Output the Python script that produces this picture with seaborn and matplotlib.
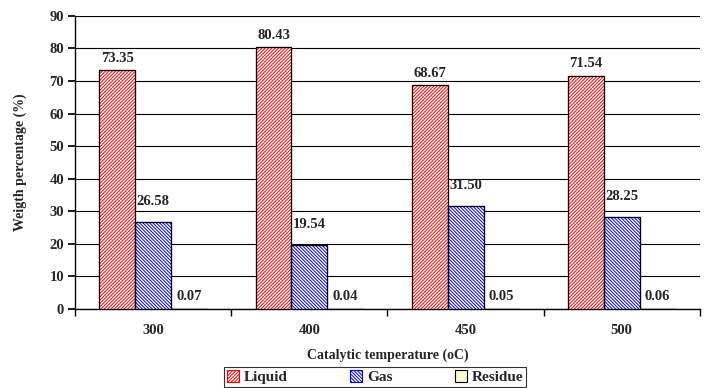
import matplotlib.pyplot as plt
import pandas as pd
import seaborn as sns
from matplotlib.patches import Rectangle

TEMPERATURES = ["300", "400", "450", "500"]
LIQUID = [73.35, 80.43, 68.67, 71.54]
GAS = [26.58, 19.54, 31.50, 28.25]
RESIDUE = [0.07, 0.04, 0.05, 0.06]
COMPONENTS = ["Liquid", "Gas", "Residue"]

sns.set_theme(style="white")
plt.rcParams["font.family"] = ["Liberation Serif", "DejaVu Serif"]
plt.rcParams["font.weight"] = "bold"
plt.rcParams["hatch.linewidth"] = 0.7

df = pd.DataFrame(
    {
        "temperature": TEMPERATURES * 3,
        "component": ["Liquid"] * 4 + ["Gas"] * 4 + ["Residue"] * 4,
        "value": LIQUID + GAS + RESIDUE,
    }
)

fig = plt.figure(figsize=(7.09, 3.88), dpi=100)
ax = fig.add_axes([0.106, 0.204, 0.881, 0.755])

sns.barplot(
    data=df,
    x="temperature",
    y="value",
    hue="component",
    hue_order=COMPONENTS,
    order=TEMPERATURES,
    palette=["white", "white", "#FFFFCC"],
    width=0.69,
    gap=0,
    errorbar=None,
    legend=False,
    ax=ax,
    zorder=3,
)

styles = {
    "Liquid": dict(edgecolor="#FF0000", hatch="/" * 10),
    "Gas": dict(edgecolor="#0000FF", hatch="\\" * 10),
    "Residue": dict(edgecolor="black", hatch=None),
}
pads = {"Liquid": 4, "Gas": 10, "Residue": 4}

for container, name in zip(ax.containers, COMPONENTS):
    container.set_label(name)
    for bar in container:
        bar.set_edgecolor(styles[name]["edgecolor"])
        bar.set_hatch(styles[name]["hatch"])
        bar.set_linewidth(0.8)
        # black outline drawn over the coloured hatch
        ax.add_patch(
            Rectangle(
                (bar.get_x(), bar.get_y()),
                bar.get_width(),
                bar.get_height(),
                fill=False,
                edgecolor="black",
                linewidth=0.9,
                zorder=4,
            )
        )
    ax.bar_label(container, fmt="%.2f", padding=pads[name], fontsize=10.5,
                 fontweight="bold")

ax.set_ylim(0, 90)
ax.set_yticks(range(0, 91, 10))
ax.yaxis.grid(True, color="black", linewidth=0.8)
ax.set_axisbelow(True)
for side in ["top", "right"]:
    ax.spines[side].set_visible(False)
ax.spines["left"].set_color("black")
ax.spines["bottom"].set_color("black")
ax.spines["left"].set_linewidth(1)
ax.spines["bottom"].set_linewidth(1)

ax.set_xticks([-0.5, 0.5, 1.5, 2.5, 3.5], minor=True)
ax.tick_params(axis="x", which="major", length=0, pad=11, labelsize=10.5)
ax.tick_params(axis="x", which="minor", length=5, direction="out", color="black",
               bottom=True)
ax.tick_params(axis="y", length=5, direction="out", color="black", left=True,
               labelsize=10.5, pad=3)
for lbl in ax.get_xticklabels() + ax.get_yticklabels():
    lbl.set_fontweight("bold")

ax.set_xlabel("Catalytic temperature (oC)", fontsize=10, fontweight="bold", labelpad=8)
ax.set_ylabel("Weigth percentage (%)", fontsize=10, fontweight="bold", labelpad=16)

leg = ax.legend(
    handles=ax.containers,
    labels=COMPONENTS,
    ncol=3,
    loc="lower center",
    bbox_to_anchor=(0.529, 0.002),
    bbox_transform=fig.transFigure,
    frameon=True,
    fancybox=False,
    edgecolor="black",
    handlelength=0.8,
    handleheight=0.8,
    handletextpad=0.3,
    columnspacing=4.1,
    borderpad=0.2,
    borderaxespad=0,
    prop={"weight": "bold", "size": 11},
)
leg.get_frame().set_linewidth(0.8)

fig.savefig("out.png", dpi=100)
